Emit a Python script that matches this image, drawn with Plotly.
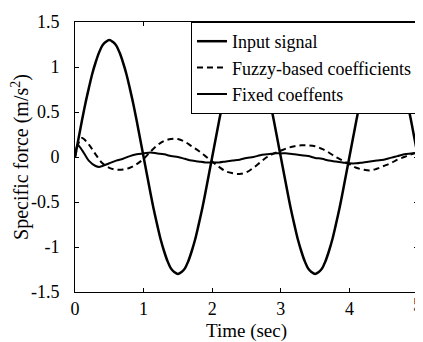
import plotly.graph_objects as go

# ---- data ----
t_input = [round(i * 0.05, 2) for i in range(101)]
input_signal = [
    0.00, 0.20, 0.40, 0.59, 0.76, 0.92, 1.05, 1.16, 1.24, 1.28, 1.30,
    1.28, 1.24, 1.16, 1.05, 0.92, 0.76, 0.59, 0.40, 0.20, 0.00,
    -0.20, -0.40, -0.59, -0.76, -0.92, -1.05, -1.16, -1.24, -1.28, -1.30,
    -1.28, -1.24, -1.16, -1.05, -0.92, -0.76, -0.59, -0.40, -0.20, 0.00,
    0.20, 0.40, 0.59, 0.76, 0.92, 1.05, 1.16, 1.24, 1.28, 1.30,
    1.28, 1.24, 1.16, 1.05, 0.92, 0.76, 0.59, 0.40, 0.20, 0.00,
    -0.20, -0.40, -0.59, -0.76, -0.92, -1.05, -1.16, -1.24, -1.28, -1.30,
    -1.28, -1.24, -1.16, -1.05, -0.92, -0.76, -0.59, -0.40, -0.20, 0.00,
    0.20, 0.40, 0.59, 0.76, 0.92, 1.05, 1.16, 1.24, 1.28, 1.30,
    1.28, 1.24, 1.16, 1.05, 0.92, 0.76, 0.59, 0.40, 0.20, 0.00,
]

t_fuzzy = [0.0, 0.05, 0.1, 0.2, 0.3, 0.4, 0.5, 0.6, 0.7, 0.8, 0.9, 1.0,
           1.1, 1.2, 1.3, 1.4, 1.5, 1.6, 1.7, 1.8, 1.9, 2.0,
           2.1, 2.2, 2.3, 2.4, 2.5, 2.6, 2.7, 2.8, 2.9, 3.0,
           3.1, 3.2, 3.3, 3.4, 3.5, 3.6, 3.7, 3.8, 3.9, 4.0,
           4.1, 4.2, 4.3, 4.4, 4.5, 4.6, 4.7, 4.8, 4.9, 5.0]
fuzzy = [0.00, 0.15, 0.21, 0.14, 0.03, -0.07, -0.12, -0.14, -0.14, -0.12, -0.08, -0.02,
         0.06, 0.13, 0.18, 0.20, 0.20, 0.17, 0.12, 0.07, 0.01, -0.05,
         -0.11, -0.16, -0.18, -0.19, -0.17, -0.12, -0.06, 0.00, 0.04, 0.07,
         0.10, 0.12, 0.13, 0.13, 0.12, 0.09, 0.05, 0.00, -0.04, -0.08,
         -0.12, -0.14, -0.15, -0.13, -0.10, -0.07, -0.03, 0.00, 0.03, 0.05]

t_fixed = [0.0, 0.04, 0.1, 0.2, 0.3, 0.35, 0.4, 0.5, 0.6, 0.7, 0.8, 0.9, 1.0,
           1.1, 1.2, 1.3, 1.4, 1.5, 1.6, 1.7, 1.8, 1.9, 2.0,
           2.1, 2.2, 2.3, 2.4, 2.5, 2.6, 2.7, 2.8, 2.9, 3.0,
           3.1, 3.2, 3.3, 3.4, 3.5, 3.6, 3.7, 3.8, 3.9, 4.0,
           4.1, 4.2, 4.3, 4.4, 4.5, 4.6, 4.7, 4.8, 4.9, 5.0]
fixed = [0.00, 0.13, 0.08, -0.04, -0.10, -0.11, -0.10, -0.07, -0.04, -0.02, 0.01, 0.03, 0.04,
         0.05, 0.04, 0.03, 0.01, 0.00, -0.02, -0.04, -0.05, -0.06, -0.06,
         -0.06, -0.05, -0.04, -0.03, -0.01, 0.00, 0.02, 0.03, 0.04, 0.04,
         0.04, 0.03, 0.02, 0.01, -0.01, -0.02, -0.04, -0.05, -0.06, -0.07,
         -0.07, -0.06, -0.05, -0.04, -0.03, -0.01, 0.01, 0.03, 0.04, 0.05]

x_ticks = [0, 1, 2, 3, 4, 5]
x_ticktext = ["0", "1", "2", "3", "4", "5"]
y_ticks = [1.5, 1, 0.5, 0, -0.5, -1, -1.5]
y_ticktext = ["1.5", "1", "0.5", "0", "-0.5", "-1", "-1.5"]

FONT = "Liberation Serif, Times New Roman, serif"

fig = go.Figure()
fig.add_trace(go.Scatter(x=t_input, y=input_signal, mode="lines", name="Input signal",
                         line=dict(color="black", width=2.5, shape="spline")))
fig.add_trace(go.Scatter(x=t_fuzzy, y=fuzzy, mode="lines", name="Fuzzy-based coefficients",
                         line=dict(color="black", width=2, dash="6px,4px", shape="spline")))
fig.add_trace(go.Scatter(x=t_fixed, y=fixed, mode="lines", name="Fixed coeffents",
                         line=dict(color="black", width=2, shape="spline")))

axis_common = dict(showgrid=False, zeroline=False, showline=True, linecolor="black",
                   linewidth=1, mirror="ticks", ticks="inside", ticklen=4,
                   tickcolor="black", ticklabeloverflow="allow",
                   tickfont=dict(family=FONT, size=18, color="black"))

# the last x label sits on the right edge; plotly drops it, so it is drawn as an annotation
fig.update_xaxes(range=[0, 5], tickvals=x_ticks, ticktext=x_ticktext[:-1] + [""],
                 title=dict(text="Time (sec)", font=dict(family=FONT, size=19, color="black"),
                            standoff=6),
                 **axis_common)
fig.add_annotation(x=x_ticks[-1], y=0, xref="x", yref="paper", text=x_ticktext[-1],
                   showarrow=False, xanchor="center", yanchor="top", yshift=-1, xshift=-1,
                   font=dict(family=FONT, size=18, color="black"))
fig.update_yaxes(range=[-1.5, 1.5], tickvals=y_ticks, ticktext=y_ticktext,
                 ticklabelstandoff=11,
                 title=dict(text="Specific force (m/s<sup>2</sup>)",
                            font=dict(family=FONT, size=20, color="black"), standoff=3),
                 **axis_common)

# page body has an 8px margin, so the figure is sized 8px smaller than the window
fig.update_layout(
    width=415, height=334,
    margin=dict(l=67, r=4, t=9, b=47),
    paper_bgcolor="white", plot_bgcolor="white",
    font=dict(family=FONT, size=18, color="black"),
    legend=dict(x=1, y=1, xanchor="right", yanchor="top",
                bgcolor="white", bordercolor="black", borderwidth=1,
                font=dict(family=FONT, size=18, color="black"),
                tracegroupgap=0),
    showlegend=True,
)

fig.write_html("out.html")
